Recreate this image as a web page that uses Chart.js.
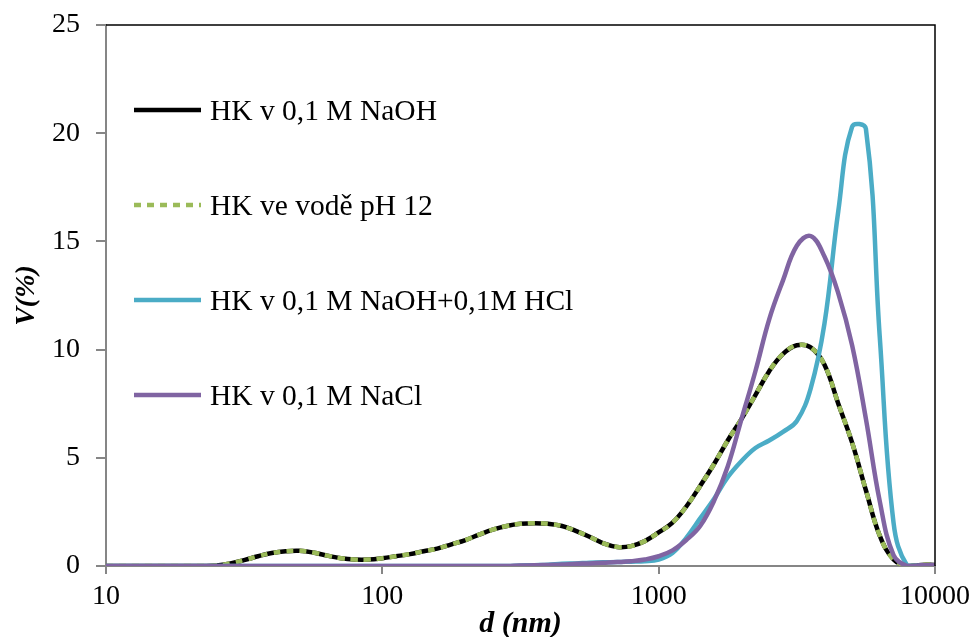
<!DOCTYPE html>
<html>
<head>
<meta charset="utf-8">
<script src="https://cdn.jsdelivr.net/npm/chart.js@4.4.1/dist/chart.umd.min.js"></script>
<style>
  html, body { margin: 0; padding: 0; background: #fff; }
</style>
</head>
<body>
<canvas id="chart" width="973" height="637"></canvas>
<script>
// particle size d (nm), log-spaced bins
const sizes = [10, 11.2, 12.6, 14.1, 15.8, 17.8, 20, 22.4, 25.1, 28.2,
  31.6, 35.5, 39.8, 44.7, 50.1, 56.2, 63.1, 70.8, 79.4, 89.1,
  100, 112, 126, 141, 158, 178, 200, 224, 251, 282,
  316, 355, 398, 447, 501, 562, 631, 708, 794, 891,
  1000, 1122, 1259, 1413, 1585, 1778, 1995, 2239, 2512, 2818,
  3162, 3548, 3981, 4467, 5012, 5623, 6310, 7079, 7943, 8913, 10000];

// V (%)
const naoh = [0, 0, 0, 0, 0, 0, 0, 0, 0.02, 0.12,
  0.27, 0.45, 0.6, 0.68, 0.7, 0.62, 0.48, 0.36, 0.3, 0.3,
  0.36, 0.45, 0.55, 0.68, 0.8, 1.0, 1.2, 1.45, 1.68, 1.85,
  1.95, 1.98, 1.95, 1.85, 1.62, 1.35, 1.05, 0.88, 0.92, 1.15,
  1.55, 2.0, 2.75, 3.7, 4.7, 5.8, 6.8, 7.9, 9.0, 9.8,
  10.2, 10.1, 9.3, 7.5, 5.7, 3.5, 1.4, 0.3, 0, 0.05, 0.05];
const voda = naoh.slice(); // same measurement curve, drawn dashed on top
const naohHcl = [0, 0, 0, 0, 0, 0, 0, 0, 0, 0,
  0, 0, 0, 0, 0, 0, 0, 0, 0, 0,
  0, 0, 0, 0, 0, 0, 0, 0, 0, 0,
  0.02, 0.04, 0.06, 0.1, 0.12, 0.15, 0.17, 0.18, 0.2, 0.22,
  0.3, 0.6, 1.3, 2.2, 3.1, 4.1, 4.85, 5.45, 5.8, 6.2,
  6.7, 8.2, 11.2, 16.4, 20.3, 20.2, 10.6, 2.0, 0, 0.02, 0.02];
const nacl = [0, 0, 0, 0, 0, 0, 0, 0, 0, 0,
  0, 0, 0, 0, 0, 0, 0, 0, 0, 0,
  0, 0, 0, 0, 0, 0, 0, 0, 0, 0,
  0.02, 0.03, 0.05, 0.07, 0.1, 0.12, 0.15, 0.18, 0.22, 0.3,
  0.45, 0.72, 1.2, 1.85, 3.0, 4.6, 6.8, 9.0, 11.4, 13.2,
  14.8, 15.25, 14.3, 12.6, 10.2, 6.8, 3.0, 0.5, 0, 0.03, 0.03];

const xTicks = [10, 100, 1000, 10000];
const FONT = "'Liberation Serif', 'Times New Roman', serif";
const GRAY = "#868686";

function pts(vals) {
  return vals.map((v, i) => ({ x: sizes[i], y: v }));
}

// black frame on top and right, legend inside the plot
const extras = {
  id: "extras",
  afterDraw(chart) {
    const c = chart.ctx, a = chart.chartArea;
    c.save();
    c.strokeStyle = "#000";
    c.lineWidth = 1.5;
    c.beginPath();
    c.moveTo(a.left, a.top);
    c.lineTo(a.right, a.top);
    c.lineTo(a.right, a.bottom);
    c.stroke();

    c.font = "29.5px " + FONT;
    c.textBaseline = "middle";
    c.fillStyle = "#000";
    chart.data.datasets.forEach((ds, i) => {
      const y = 110 + i * 95;
      c.strokeStyle = ds.borderColor;
      c.lineWidth = ds.borderWidth;
      c.setLineDash(ds.borderDash || []);
      c.lineCap = "butt";
      c.beginPath();
      c.moveTo(134, y);
      c.lineTo(201, y);
      c.stroke();
      c.setLineDash([]);
      c.fillText(ds.label, 210, y + 2);
    });
    c.restore();
  }
};

const ctx = document.getElementById("chart").getContext("2d");
const chart = new Chart(ctx, {
  type: "line",
  data: {
    datasets: [
      { label: "HK v 0,1 M NaOH", data: pts(naoh), borderColor: "#000000", borderWidth: 4.5, order: 3 },
      { label: "HK ve vodě pH 12", data: pts(voda), borderColor: "#9BBB59", borderWidth: 4.5, borderDash: [7, 6], order: 2 },
      { label: "HK v 0,1 M NaOH+0,1M HCl", data: pts(naohHcl), borderColor: "#4BACC6", borderWidth: 4.5, order: 1 },
      { label: "HK v 0,1 M NaCl", data: pts(nacl), borderColor: "#8064A2", borderWidth: 4.5, order: 0 }
    ]
  },
  options: {
    responsive: false,
    animation: false,
    devicePixelRatio: 1,
    layout: { padding: { left: 0, right: 38, top: 25, bottom: 0 } },
    elements: {
      point: { radius: 0 },
      line: { tension: 0.4, fill: false, borderCapStyle: "butt" }
    },
    plugins: {
      legend: { display: false },
      tooltip: { enabled: false }
    },
    scales: {
      x: {
        type: "logarithmic",
        min: 10,
        max: 10000,
        afterBuildTicks(scale) { scale.ticks = xTicks.map(v => ({ value: v })); },
        afterFit(scale) {
          scale.height = 71;
          scale.paddingLeft = 0;
          scale.paddingRight = 0;
        },
        ticks: {
          color: "#000",
          font: { family: FONT, size: 28 },
          padding: 6,
          maxRotation: 0,
          autoSkip: false,
          callback: v => String(v)
        },
        grid: { drawOnChartArea: false, color: GRAY, lineWidth: 2, tickLength: 8 },
        border: { color: GRAY, width: 2 },
        title: {
          display: true,
          text: "d (nm)",
          color: "#000",
          font: { family: FONT, size: 30, weight: "bold", style: "italic", lineHeight: 0.87 },
          padding: { top: 0, bottom: 0 }
        }
      },
      y: {
        min: 0,
        max: 25,
        afterFit(scale) {
          scale.width = 106;
          scale.paddingTop = 0;
          scale.paddingBottom = 0;
        },
        ticks: {
          stepSize: 5,
          color: "#000",
          font: { family: FONT, size: 28 },
          padding: 16
        },
        grid: { drawOnChartArea: false, color: GRAY, lineWidth: 2, tickLength: 10 },
        border: { color: GRAY, width: 2 },
        title: {
          display: true,
          text: "V(%)",
          color: "#000",
          font: { family: FONT, size: 28, weight: "bold", style: "italic" },
          padding: { top: 10, bottom: 0 }
        }
      }
    }
  },
  plugins: [extras]
});
</script>
</body>
</html>
